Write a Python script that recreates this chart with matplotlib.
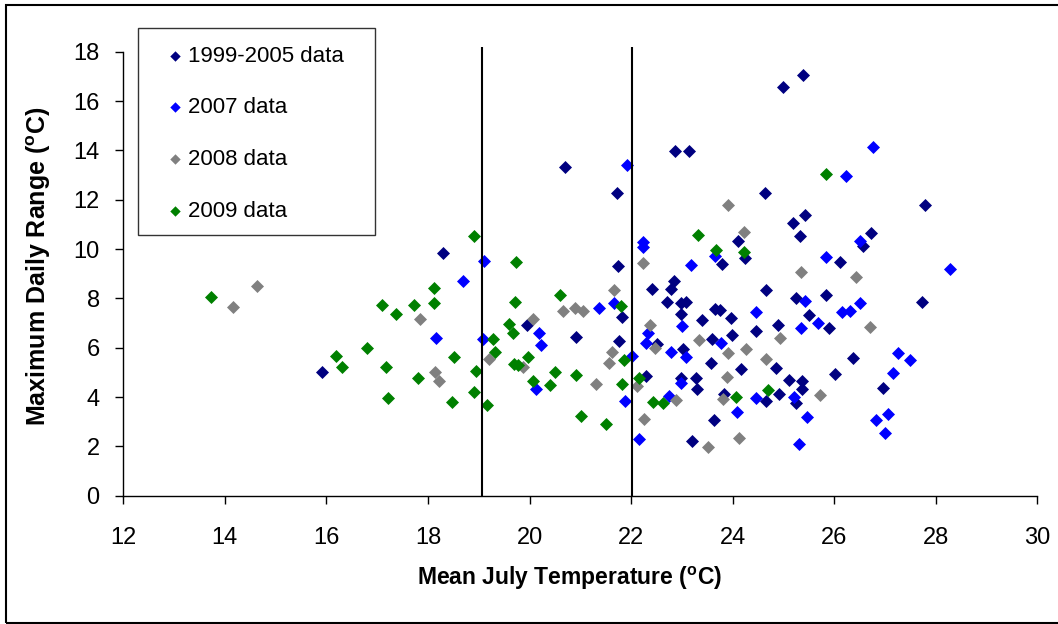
import matplotlib
matplotlib.use("Agg")
import matplotlib.pyplot as plt
from matplotlib.patches import Rectangle

plt.rcParams['font.family'] = ['Liberation Sans', 'DejaVu Sans']
plt.rcParams['mathtext.fontset'] = 'custom'
plt.rcParams['mathtext.default'] = 'regular'

# ---------------- data ----------------
navy_x = [15.91, 18.30, 20.69, 21.73, 22.86, 23.15, 21.75, 23.79, 24.11, 24.25,
          21.83, 22.41, 22.84, 22.79, 22.70, 22.99, 23.09, 22.99, 23.39, 23.66,
          23.75, 23.96, 22.52, 23.02, 23.59, 23.98, 23.57, 24.16, 22.99, 23.28,
          23.29, 22.30, 23.63, 23.20, 23.83, 24.46, 19.95, 20.92, 21.77, 25.00,
          25.39, 24.64, 27.78, 25.42, 25.18, 25.33, 26.73, 26.56, 26.11, 24.66,
          25.83, 27.73, 25.25, 25.51, 25.89, 24.90, 26.38, 26.97, 24.85, 26.01,
          25.11, 25.37, 25.36, 24.92, 24.66, 25.24]
navy_y = [5.01, 9.82, 13.32, 12.28, 13.97, 13.96, 9.32, 9.39, 10.31, 9.62,
          7.26, 8.37, 8.69, 8.37, 7.87, 7.83, 7.86, 7.36, 7.11, 7.56,
          7.52, 7.21, 6.14, 5.93, 6.37, 6.52, 5.39, 5.15, 4.78, 4.78,
          4.34, 4.85, 3.05, 2.21, 4.11, 6.68, 6.91, 6.45, 6.27, 16.57,
          17.07, 12.28, 11.79, 11.39, 11.04, 10.52, 10.64, 10.13, 9.46, 8.35,
          8.14, 7.86, 8.00, 7.33, 6.78, 6.92, 5.60, 4.38, 5.19, 4.92,
          4.69, 4.65, 4.31, 4.11, 3.83, 3.77]

blue_x = [18.69, 19.10, 18.15, 19.09, 21.91, 22.24, 22.24, 23.66, 23.18, 21.36,
          21.67, 23.01, 22.34, 22.30, 22.79, 23.09, 23.78, 22.98, 22.01, 21.89,
          20.13, 20.19, 20.22, 22.16, 22.75, 24.08, 24.46, 24.47, 26.76, 26.23,
          26.51, 25.83, 28.29, 25.42, 26.51, 26.16, 26.32, 25.68, 25.35, 27.25,
          27.49, 27.16, 25.20, 25.46, 26.83, 27.05, 27.01, 25.31]
blue_y = [8.71, 9.52, 6.41, 6.34, 13.39, 10.27, 10.07, 9.73, 9.35, 7.59,
          7.83, 6.88, 6.61, 6.21, 5.83, 5.64, 6.21, 4.58, 5.66, 3.83,
          4.31, 6.59, 6.10, 2.30, 4.04, 3.39, 7.45, 3.97, 14.13, 12.96,
          10.34, 9.66, 9.21, 7.90, 7.83, 7.43, 7.49, 7.02, 6.78, 5.77,
          5.50, 4.99, 4.01, 3.20, 3.05, 3.32, 2.55, 2.11]

gray_x = [14.16, 14.64, 17.85, 18.14, 18.21, 19.20, 23.91, 22.24, 24.23, 21.66,
          20.65, 20.89, 21.05, 22.37, 22.47, 23.34, 23.91, 24.26, 23.89, 22.11,
          21.62, 21.57, 21.30, 20.06, 19.87, 22.25, 22.89, 23.51, 23.81, 24.13,
          25.34, 26.42, 24.94, 26.70, 24.65, 25.72]
gray_y = [7.67, 8.51, 7.15, 5.01, 4.67, 5.53, 11.79, 9.43, 10.68, 8.35,
          7.48, 7.59, 7.48, 6.91, 6.00, 6.31, 5.77, 5.93, 4.81, 4.44,
          5.83, 5.37, 4.51, 7.15, 5.23, 3.09, 3.88, 1.98, 3.90, 2.34,
          9.05, 8.85, 6.41, 6.82, 5.56, 4.08]

green_x = [13.72, 16.19, 16.30, 16.79, 17.09, 17.37, 17.18, 17.22, 17.72, 18.11,
           18.11, 18.90, 18.52, 17.80, 18.94, 18.90, 18.48, 19.17, 19.73, 23.32,
           23.68, 24.23, 19.71, 20.60, 21.80, 22.16, 21.86, 21.83, 20.92, 21.02,
           21.50, 20.51, 20.40, 20.07, 19.97, 19.60, 19.68, 19.28, 19.32, 19.69,
           19.77, 22.44, 22.62, 24.06, 25.83, 24.70]
green_y = [8.04, 5.66, 5.23, 6.00, 7.74, 7.36, 5.23, 3.97, 7.74, 8.44,
           7.83, 10.54, 5.62, 4.76, 5.05, 4.21, 3.81, 3.67, 9.46, 10.57,
           9.97, 9.87, 7.86, 8.13, 7.70, 4.78, 5.50, 4.51, 4.88, 3.25,
           2.91, 5.01, 4.47, 4.65, 5.64, 6.95, 6.59, 6.34, 5.83, 5.33,
           5.28, 3.79, 3.77, 4.01, 13.05, 4.27]

series_labels = ['1999-2005 data', '2007 data', '2008 data', '2009 data']
series_colors = ['#000080', '#0000FF', '#808080', '#008000']

threshold_x = [19.07, 22.02]
threshold_top = 18.2

x_ticks = [12, 14, 16, 18, 20, 22, 24, 26, 28, 30]
y_ticks = [0, 2, 4, 6, 8, 10, 12, 14, 16, 18]

# ---------------- figure ----------------
fig = plt.figure(figsize=(10.58, 6.24), dpi=100)
W, H = 1058.0, 624.0
AX_L, AX_R, AX_B, AX_T = 123.3, 1037.3, 495.7, 51.7

ax = fig.add_axes([AX_L / W, 1 - AX_B / H, (AX_R - AX_L) / W, (AX_B - AX_T) / H])

all_series = [(navy_x, navy_y), (blue_x, blue_y), (gray_x, gray_y), (green_x, green_y)]
for (xs, ys), lab, col in zip(all_series, series_labels, series_colors):
    ax.scatter(xs, ys, marker='D', s=44, color=col, linewidths=0, label=lab, zorder=3)

ax.vlines(threshold_x, 0, threshold_top, colors='black', linewidth=1.5,
          clip_on=False, zorder=5)

ax.set_xlim(12, 30)
ax.set_ylim(0, 18)
ax.set_xticks(x_ticks)
ax.set_yticks(y_ticks)
for side in ('top', 'right'):
    ax.spines[side].set_visible(False)
for side in ('left', 'bottom'):
    ax.spines[side].set_linewidth(1.0)
ax.tick_params(axis='both', direction='out', length=6, width=1.0,
               labelsize=17, colors='black')
ax.tick_params(axis='y', pad=11)
ax.tick_params(axis='x', pad=16.5)

xl = ax.set_xlabel('Mean July Temperature ($^o$C)', fontsize=16.5, fontweight='bold')
ax.xaxis.set_label_coords((569.7 - AX_L) / (AX_R - AX_L), (AX_B - 585) / (AX_B - AX_T))
xl.set_va('baseline')
yl = ax.set_ylabel('Maximum Daily Range ($^o$C)', fontsize=18, fontweight='bold')
ax.yaxis.set_label_coords((46 - AX_L) / (AX_R - AX_L), (AX_B - 266.7) / (AX_B - AX_T))
yl.set_va('baseline')

leg = ax.legend(loc='upper left', bbox_to_anchor=(164 / W, 1 - 45.6 / H),
                bbox_transform=fig.transFigure, frameon=False, fontsize=16,
                borderpad=0, borderaxespad=0, handlelength=1.0,
                handletextpad=0.1, labelspacing=1.38, markerscale=0.8,
                scatterpoints=1)

# legend box
fig.add_artist(Rectangle((138 / W, 1 - 235 / H), (375 - 138) / W, (235 - 28) / H,
                         transform=fig.transFigure, fill=False,
                         edgecolor='#333333', linewidth=1.0))
# outer border
fig.add_artist(Rectangle((5.5 / W, 1 - 622.5 / H), 1.1, (622.5 - 4.5) / H,
                         transform=fig.transFigure, fill=False,
                         edgecolor='black', linewidth=1.5))

fig.savefig('out.png', dpi=100)
